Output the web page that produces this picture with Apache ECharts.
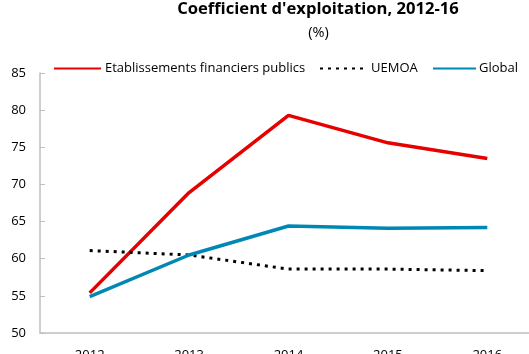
<!DOCTYPE html>
<html><head><meta charset="utf-8">
<script src="https://cdn.jsdelivr.net/npm/echarts@6/dist/echarts.min.js"></script>
<style>html,body{margin:0;padding:0;background:#fff}#c{width:529px;height:354px}</style>
</head><body><div id="c"></div>
<script>
const years = ['2012','2013','2014','2015','2016'];
const efp = [55.4, 68.9, 79.3, 75.6, 73.5];
const uemoa = [61.1, 60.5, 58.6, 58.6, 58.4];
const globalVals = [54.9, 60.5, 64.4, 64.1, 64.2];
const yTicks = [50, 55, 60, 65, 70, 75, 80, 85];
const names = ['Etablissements financiers publics', 'UEMOA', 'Global'];

const FONT = 'Open Sans';
function lg(name, left, w, pad) {
  return {
    data: [name], left: left, top: 62, padding: 0, itemWidth: w, itemHeight: 12, itemGap: 0,
    itemStyle: {opacity: 0},
    textStyle: {fontFamily: FONT, fontSize: 13, color: '#000', padding: [0, 0, 0, pad]}
  };
}
const chart = echarts.init(document.getElementById('c'));
chart.setOption({
  animation: false,
  textStyle: {fontFamily: FONT},
  graphic: [
    {type: 'text', style: {text: "Coefficient d'exploitation, 2012-16", font: 'bold 16.6px "Open Sans"', fill: '#000', x: 318, y: 1, textAlign: 'center'}},
    {type: 'text', style: {text: '(%)', font: '14.5px "Open Sans"', fill: '#000', x: 318.5, y: 25, textAlign: 'center'}}
  ],
  legend: [lg(names[0], 53, 47, -1), lg(names[1], 319, 43, 3), lg(names[2], 432, 43, -2)],
  grid: {left: 40, top: 73, width: 497, height: 260, containLabel: false, outerBoundsMode: 'none'},
  xAxis: {
    type: 'category', data: years, boundaryGap: true,
    axisLine: {lineStyle: {color: '#BFBFBF', width: 1.5}},
    axisTick: {inside: true, length: 5, lineStyle: {color: '#BFBFBF'}},
    axisLabel: {color: '#000', fontSize: 13, margin: 16, fontFamily: FONT}
  },
  yAxis: {
    type: 'value', min: 50, max: 85, interval: 5,
    axisLine: {show: true, lineStyle: {color: '#BFBFBF', width: 1.5}},
    axisTick: {show: true, inside: true, length: 5, lineStyle: {color: '#BFBFBF'}},
    splitLine: {show: false},
    axisLabel: {color: '#000', fontSize: 13, margin: 14, fontFamily: FONT,
      formatter: v => yTicks.includes(v) ? String(v) : ''}
  },
  series: [
    {name: names[0], type: 'line', data: efp, symbol: 'none',
     lineStyle: {color: '#E60000', width: 3.5}, itemStyle: {color: '#E60000'}},
    {name: names[1], type: 'line', data: uemoa, symbol: 'none',
     lineStyle: {color: '#000', width: 3, type: [3, 5], cap: 'butt'}, itemStyle: {color: '#000'}},
    {name: names[2], type: 'line', data: globalVals, symbol: 'none',
     lineStyle: {color: '#0088B4', width: 3.5}, itemStyle: {color: '#0088B4'}}
  ]
});
</script></body></html>
